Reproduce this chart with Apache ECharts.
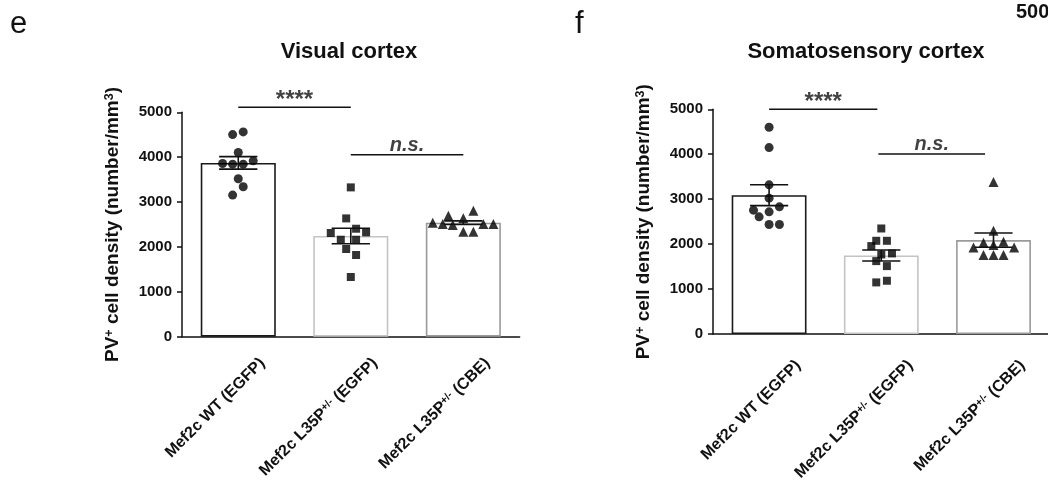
<!DOCTYPE html>
<html><head><meta charset="utf-8">
<script src="https://cdn.jsdelivr.net/npm/echarts@6/dist/echarts.min.js"></script>
<style>html,body{margin:0;padding:0;background:#fff}#c{width:1048px;height:495px}</style>
</head><body><div id="c"></div>
<script>
// ---------- data ----------
const categories = ['Mef2c WT (EGFP)', 'Mef2c L35P{s|+/-} (EGFP)', 'Mef2c L35P{s|+/-} (CBE)'];
const yTicks = [0, 1000, 2000, 3000, 4000, 5000];
const panelTitles = ['Visual cortex', 'Somatosensory cortex'];

// Visual cortex (panel e)
const visualMean = [3873, 2244, 2540];
const visualSem = [140, 174, 40];
const visualWT = [4504, 4563, 4104, 3859, 3844, 3844, 3919, 3519, 3341, 3156];
const visualWTx = [-0.05, 0.044, 0, -0.139, -0.05, 0.044, 0.133, 0, 0.044, -0.05];
const visualL35P = [3327, 2636, 2406, 2310, 2325, 2161, 2161, 1954, 1820, 1330];
const visualL35Px = [0, -0.041, 0.047, -0.178, 0.136, -0.089, 0.047, -0.041, 0.047, 0];
const visualCBE = [2539, 2510, 2695, 2488, 2637, 2806, 2339, 2339, 2510, 2510];
const visualCBEx = [-0.272, -0.183, -0.133, -0.094, 0, 0.089, 0, 0.089, 0.178, 0.267];
const visualSigText = ['****', 'n.s.'];
const visualSigFrom = [0, 1];
const visualSigTo = [1, 2];
const visualSigLevel = [5110, 4053];

// Somatosensory cortex (panel f)
const somaMean = [3089, 1748, 2089];
const somaSem = [233, 122, 160];
const somaWT = [4600, 4148, 3319, 3022, 2756, 2719, 2830, 2607, 2437, 2437];
const somaWTx = [0, 0, 0, 0, -0.139, 0, 0.092, -0.089, 0, 0.092];
const somaL35P = [2348, 2074, 2074, 1956, 1770, 1793, 1622, 1511, 1148, 1185];
const somaL35Px = [0, -0.045, 0.05, -0.089, 0, 0.095, -0.045, 0.05, -0.045, 0.05];
const somaCBE = [3385, 2296, 1926, 2030, 1978, 2052, 1926, 1756, 1756, 1756];
const somaCBEx = [0, 0, -0.178, -0.089, 0, 0.089, 0.184, -0.089, 0, 0.089];
const somaSigText = ['****', 'n.s.'];
const somaSigFrom = [0, 0.974];
const somaSigTo = [0.965, 1.925];
const somaSigLevel = [5000, 4007];

// ---------- styling ----------
const FONT = 'Liberation Sans, Arial, sans-serif';
const INK = '#111';
const barBorders = ['#1a1a1a', '#c4c4c4', '#9a9a9a'];
const symbols = ['circle', 'rect', 'triangle'];
const symbolSizes = [9, 8, 10];

const panels = [
  { grid: { left: 182, top: 112.3, width: 337.6, height: 224.4 },
    mean: visualMean, sem: visualSem,
    groups: [[visualWT, visualWTx], [visualL35P, visualL35Px], [visualCBE, visualCBEx]],
    sig: [visualSigText, visualSigFrom, visualSigTo, visualSigLevel], labelPad: 26 },
  { grid: { left: 713, top: 109.3, width: 336.6, height: 224.7 },
    mean: somaMean, sem: somaSem,
    groups: [[somaWT, somaWTx], [somaL35P, somaL35Px], [somaCBE, somaCBEx]],
    sig: [somaSigText, somaSigFrom, somaSigTo, somaSigLevel], labelPad: 33 }
];

const grids = [], xAxes = [], yAxes = [], series = [];
panels.forEach((p, pi) => {
  grids.push(Object.assign({ outerBoundsMode: 'none', containLabel: false }, p.grid));
  xAxes.push({
    type: 'category', gridIndex: pi, data: categories,
    axisLine: { onZero: false, lineStyle: { color: INK, width: 1.5 } },
    axisTick: { alignWithLabel: true, length: 5, lineStyle: { color: INK, width: 1.5 } },
    axisLabel: {
      interval: 0, rotate: 45, margin: 0, color: INK, fontFamily: FONT, fontWeight: 'bold', fontSize: 16,
      align: 'right', verticalAlign: 'top', padding: [p.labelPad, 0, 0, 0],
      rich: { s: { fontSize: 10.5, fontWeight: 'bold', fontFamily: FONT, color: INK, verticalAlign: 'top' } }
    },
    splitLine: { show: false }
  });
  xAxes.push({ type: 'value', gridIndex: pi, min: -0.5, max: 2.5, show: false });
  yAxes.push({
    type: 'value', gridIndex: pi, min: yTicks[0], max: yTicks[yTicks.length - 1], interval: 1000,
    axisLine: { show: true, onZero: false, lineStyle: { color: INK, width: 1.5 } },
    axisTick: { show: true, length: 5, lineStyle: { color: INK, width: 1.5 } },
    axisLabel: { color: INK, fontFamily: FONT, fontWeight: 'bold', fontSize: 15, margin: 10,
      formatter: v => String(v) },
    splitLine: { show: false },
    name: '{b|PV}{s|+}{b| cell density (number/mm}{s|3}{b|)}',
    nameLocation: 'middle', nameGap: 60, nameRotate: 90,
    nameTextStyle: {
      rich: {
        b: { fontFamily: FONT, fontWeight: 'bold', fontSize: 19, color: INK },
        s: { fontFamily: FONT, fontWeight: 'bold', fontSize: 12.5, color: INK, verticalAlign: 'top' }
      }
    }
  });
  const cx = pi * 2, vx = pi * 2 + 1;
  series.push({
    type: 'bar', xAxisIndex: cx, yAxisIndex: pi, barWidth: '66.7%', z: 1,
    data: p.mean.map((m, i) => ({ value: m, itemStyle: { color: '#fff', borderColor: barBorders[i], borderWidth: 1.6 } }))
  });
  p.groups.forEach((g, gi) => {
    series.push({
      type: 'scatter', xAxisIndex: vx, yAxisIndex: pi, z: 3,
      symbol: symbols[gi], symbolSize: symbolSizes[gi], itemStyle: { color: '#000' },
      data: g[0].map((v, i) => [gi + g[1][i], v])
    });
  });
  series.push({
    type: 'custom', xAxisIndex: vx, yAxisIndex: pi, z: 4,
    data: p.mean.map((m, i) => [i, m, p.sem[i]]),
    renderItem: (params, api) => {
      const x = api.value(0), m = api.value(1), s = api.value(2);
      const t = api.coord([x, m + s]), b = api.coord([x, m - s]);
      const tl = api.coord([x - 0.17, m + s]), tr = api.coord([x + 0.17, m + s]);
      const bl = api.coord([x - 0.17, m - s]), br = api.coord([x + 0.17, m - s]);
      const st = { stroke: INK, lineWidth: 1.6 };
      return { type: 'group', children: [
        { type: 'line', shape: { x1: t[0], y1: t[1], x2: b[0], y2: b[1] }, style: st },
        { type: 'line', shape: { x1: tl[0], y1: tl[1], x2: tr[0], y2: tr[1] }, style: st },
        { type: 'line', shape: { x1: bl[0], y1: bl[1], x2: br[0], y2: br[1] }, style: st }
      ] };
    }
  });
  const [txt, from, to, lvl] = p.sig;
  txt.forEach((t, i) => {
    series.push({
      type: 'line', xAxisIndex: vx, yAxisIndex: pi, clip: false, symbol: 'none', z: 5,
      lineStyle: { color: INK, width: 1.5 },
      data: [[from[i], lvl[i]], [to[i], lvl[i]]]
    });
    const isStar = t === '****';
    series.push({
      type: 'scatter', xAxisIndex: vx, yAxisIndex: pi, clip: false, symbolSize: 0, z: 5,
      data: [[(from[i] + to[i]) / 2, lvl[i]]],
      label: {
        show: true, formatter: t, position: 'top', distance: 0,
        offset: [0, isStar ? 5 : 1],
        fontFamily: FONT, fontWeight: 'bold', fontStyle: isStar ? 'normal' : 'italic',
        fontSize: isStar ? 24 : 20, color: INK, textBorderWidth: 0
      }
    });
  });
});

const chart = echarts.init(document.getElementById('c'), null, { renderer: 'canvas' });
chart.setOption({
  animation: false,
  backgroundColor: '#fff',
  title: [
    { text: panelTitles[0], left: 349, top: 41, textAlign: 'center', padding: 0,
      textStyle: { fontFamily: FONT, fontWeight: 'bold', fontSize: 22, color: INK } },
    { text: panelTitles[1], left: 866, top: 41, textAlign: 'center', padding: 0,
      textStyle: { fontFamily: FONT, fontWeight: 'bold', fontSize: 22, color: INK } }
  ],
  graphic: [
    { type: 'text', left: 10, top: 9, style: { text: 'e', font: '31px ' + FONT, fill: INK } },
    { type: 'text', left: 575, top: 9, style: { text: 'f', font: '31px ' + FONT, fill: INK } },
    { type: 'text', left: 1016, top: 2, style: { text: '500', font: 'bold 20px ' + FONT, fill: INK } }
  ],
  grid: grids, xAxis: xAxes, yAxis: yAxes, series: series
});
</script>
</body></html>
